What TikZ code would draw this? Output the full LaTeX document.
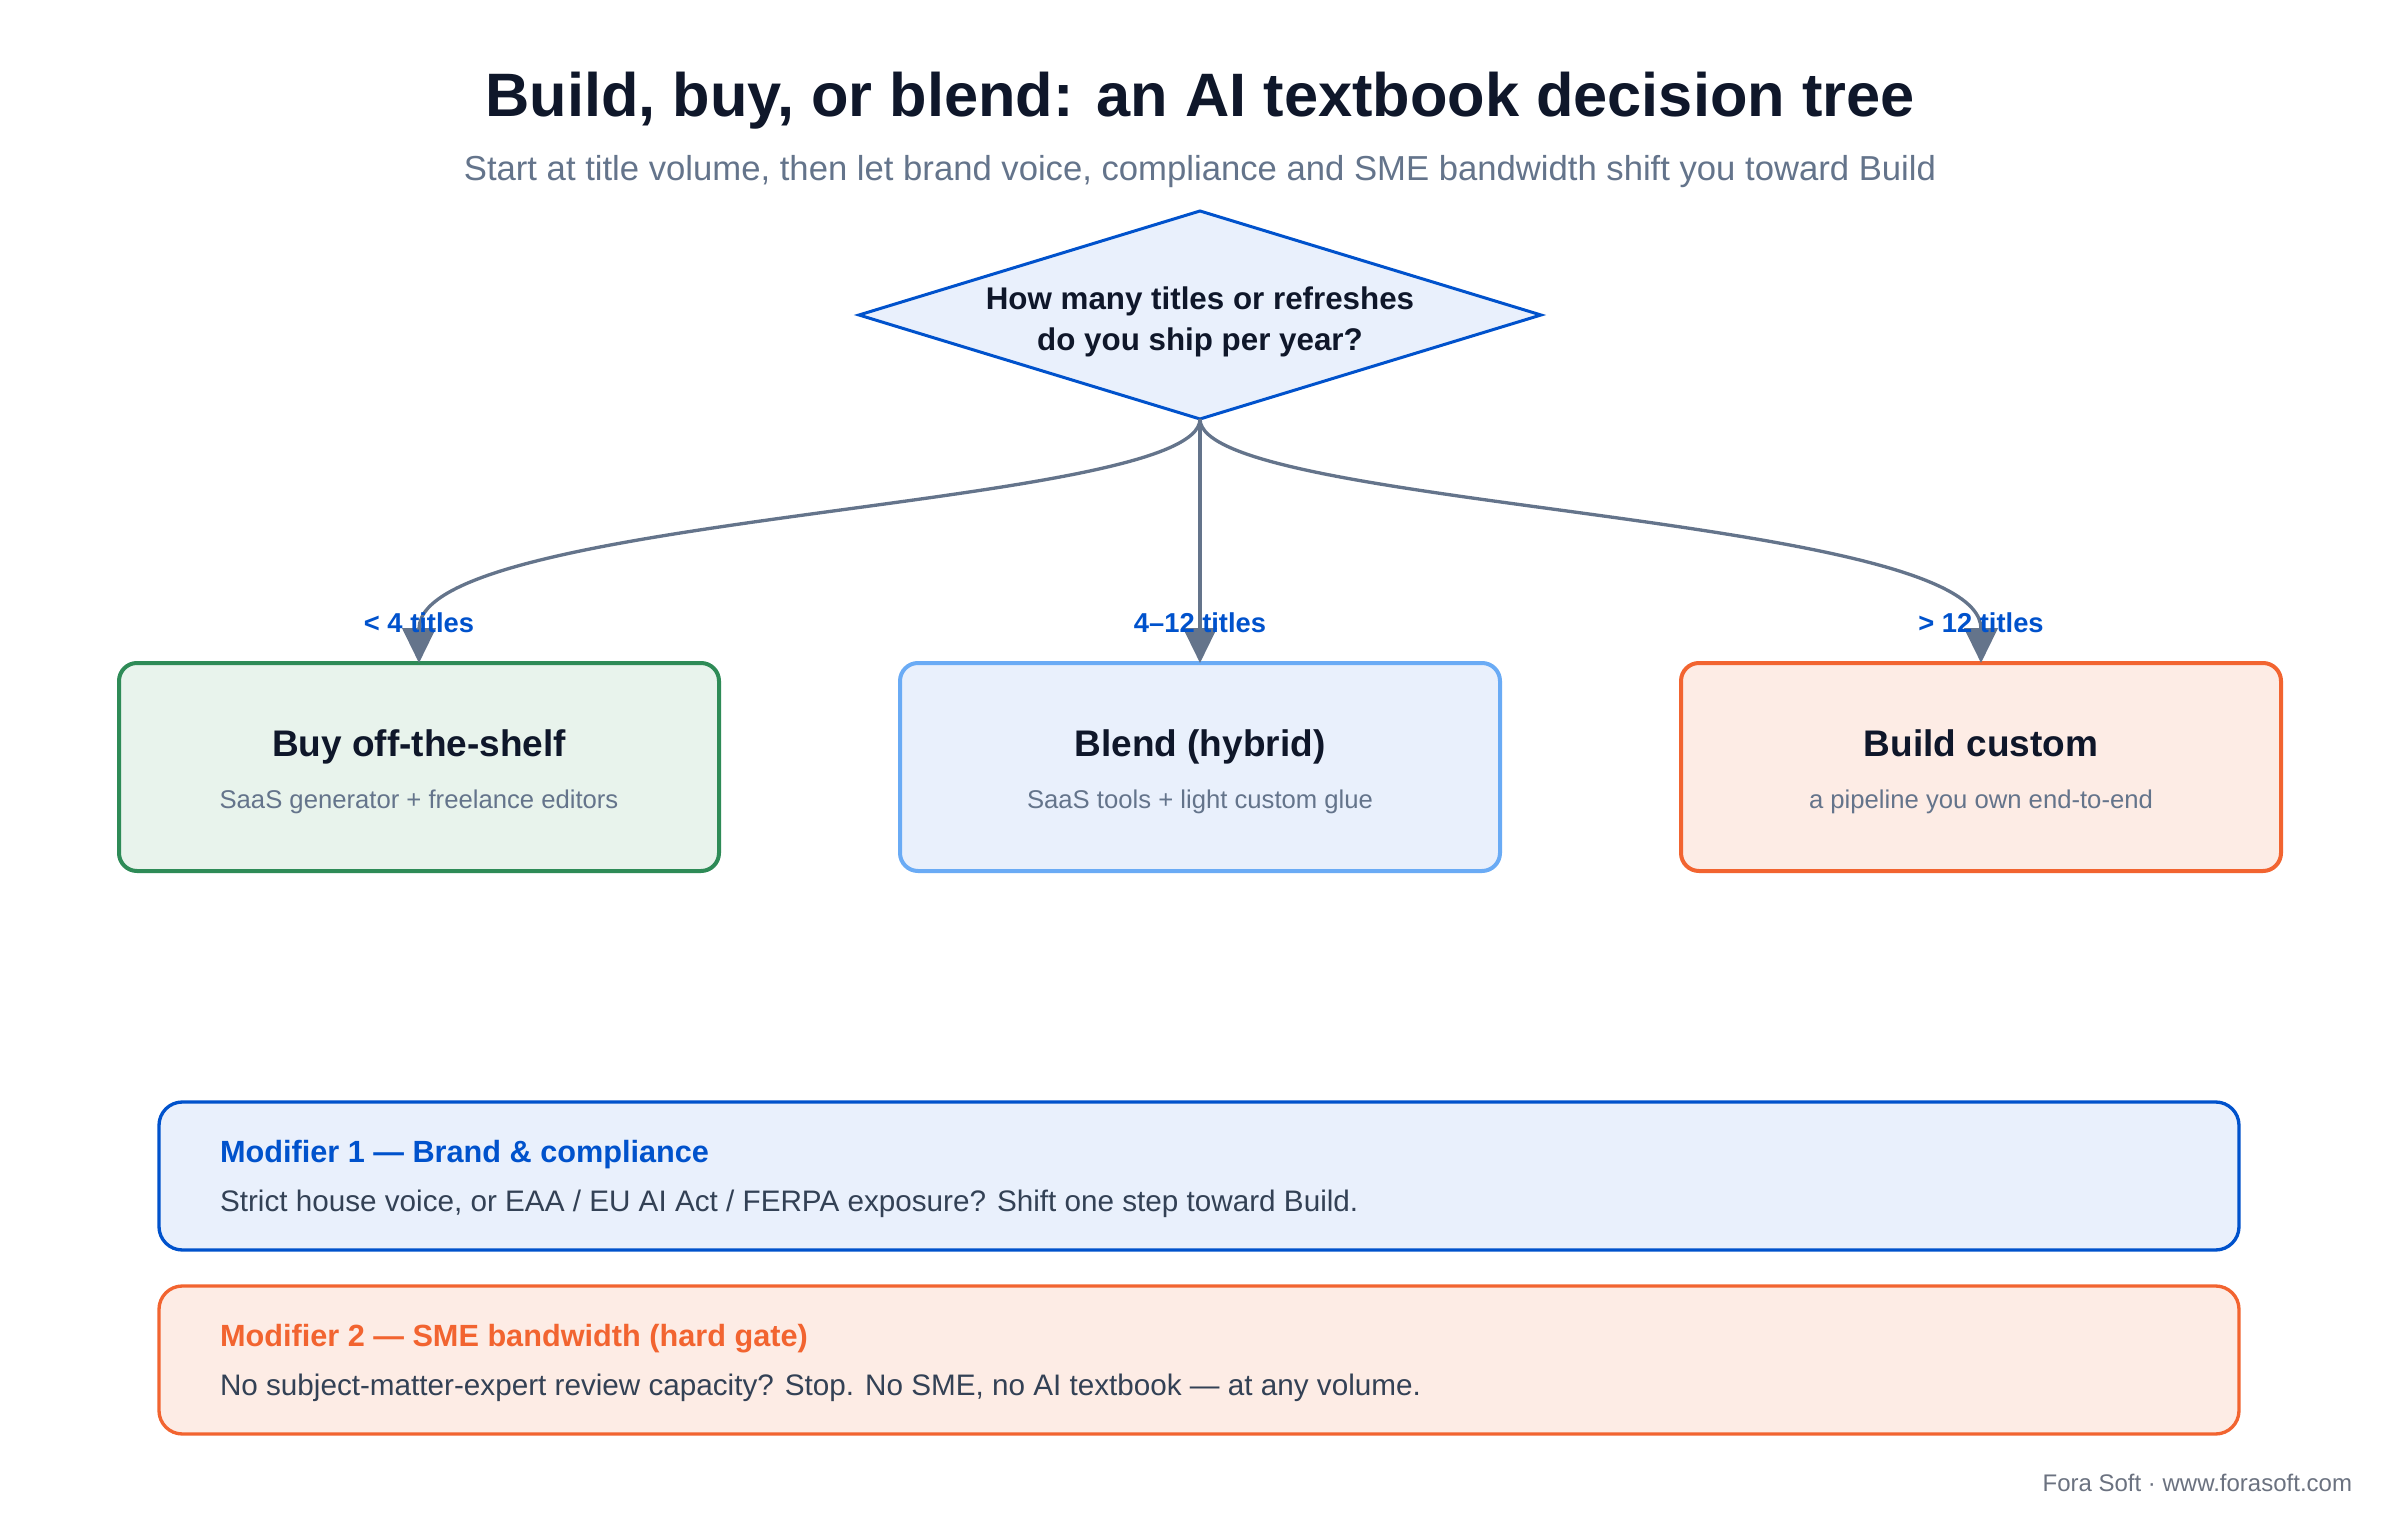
\documentclass[tikz,border=0pt]{standalone}
\usepackage{fontspec}
\setmainfont{Liberation Sans}
\usetikzlibrary{shapes.geometric,arrows.meta}
\definecolor{ink}{HTML}{0F172A}
\definecolor{slate}{HTML}{64748B}
\definecolor{bodytext}{HTML}{334155}
\definecolor{azure}{HTML}{0052CC}
\definecolor{azurefill}{HTML}{E9F0FC}
\definecolor{sky}{HTML}{6AABF5}
\definecolor{pine}{HTML}{2E8B57}
\definecolor{pinefill}{HTML}{E8F3EC}
\definecolor{ember}{HTML}{F26430}
\definecolor{emberfill}{HTML}{FDECE5}
\definecolor{footgray}{HTML}{6B7280}

\begin{document}
\begin{tikzpicture}[x=0.3pt, y=-0.3pt, >={Triangle[width=10pt,length=10.5pt]},
    every node/.style={inner sep=0pt, outer sep=0pt},
    decision/.style={diamond, draw=azure, fill=azurefill, line width=0.9pt, minimum width=204.6pt, minimum height=62.4pt},
    choice/.style={rectangle, rounded corners=5.4pt, line width=1.2pt, minimum width=180pt, minimum height=62.4pt},
    modifier/.style={rectangle, rounded corners=7pt, line width=1pt, minimum width=624pt, minimum height=44.4pt},
    flow/.style={->, draw=slate, line width=1pt},
    branch/.style={text=azure, font=\bfseries\fontsize{8.2}{10}\selectfont},
    head/.style={anchor=base, text=ink, font=\bfseries\fontsize{11.1}{13}\selectfont},
    subline/.style={anchor=base, text=slate, font=\fontsize{7.7}{9}\selectfont},
    modtitle/.style={anchor=west, font=\bfseries\fontsize{9.2}{11}\selectfont},
    modbody/.style={anchor=west, text=bodytext, font=\fontsize{8.9}{11}\selectfont}]

    % fond et cadre
    \fill[white] (0,0) rectangle (2400,1528);
    \useasboundingbox (0,0) rectangle (2400,1528);

    % titre
    \node[text=ink, font=\bfseries\fontsize{18.4}{22}\selectfont] (title) at (1200,101) {Build, buy, or blend: an AI textbook decision tree};
    \node[text=slate, font=\fontsize{10.4}{12}\selectfont] (subtitle) at (1200,172) {Start at title volume, then let brand voice, compliance and SME bandwidth shift you toward Build};

    % question
    \node[decision] (q) at (1200,315) {};
    \node[text=ink, align=center, font=\bfseries\fontsize{9.4}{12.4}\selectfont] (qtext) at (1200,322) {How many titles or refreshes\\do you ship per year?};

    % choix
    \node[choice, draw=pine, fill=pinefill] (buy) at (419,767) {};
    \node[head] (buyhead) at ([yshift=3.3pt]buy.center) {Buy off-the-shelf};
    \node[subline] (buysub) at ([yshift=-12.3pt]buy.center) {SaaS generator + freelance editors};

    \node[choice, draw=sky, fill=azurefill] (blend) at (1200,767) {};
    \node[head] (blendhead) at ([yshift=3.3pt]blend.center) {Blend (hybrid)};
    \node[subline] (blendsub) at ([yshift=-12.3pt]blend.center) {SaaS tools + light custom glue};

    \node[choice, draw=ember, fill=emberfill] (build) at (1981,767) {};
    \node[head] (buildhead) at ([yshift=3.3pt]build.center) {Build custom};
    \node[subline] (buildsub) at ([yshift=-12.3pt]build.center) {a pipeline you own end-to-end};

    % branches
    \draw[flow] (q.south) .. controls +(0,90) and +(0,-150) .. (buy.north);
    \draw[flow] (q.south) -- (blend.north);
    \draw[flow] (q.south) .. controls +(0,90) and +(0,-150) .. (build.north);

    \node[branch] (lbuy) at ([yshift=12pt]buy.north) {< 4 titles};
    \node[branch] (lblend) at ([yshift=12pt]blend.north) {4--12 titles};
    \node[branch] (lbuild) at ([yshift=12pt]build.north) {> 12 titles};

    % modificateurs
    \node[modifier, draw=azure, fill=azurefill] (mod1) at (1199,1176) {};
    \node[modtitle, text=azure] (mod1title) at (220,1155) {Modifier 1 — Brand \& compliance};
    \node[modbody] (mod1body) at (220,1204) {Strict house voice, or EAA / EU AI Act / FERPA exposure? Shift one step toward Build.};

    \node[modifier, draw=ember, fill=emberfill] (mod2) at (1199,1360) {};
    \node[modtitle, text=ember] (mod2title) at (220,1339) {Modifier 2 — SME bandwidth (hard gate)};
    \node[modbody] (mod2body) at (220,1388) {No subject-matter-expert review capacity? Stop. No SME, no AI textbook — at any volume.};

    % pied de page
    \node[anchor=east, text=footgray, font=\fontsize{7.2}{9}\selectfont] (footer) at (2352,1483) {Fora Soft · www.forasoft.com};
\end{tikzpicture}
\end{document}
